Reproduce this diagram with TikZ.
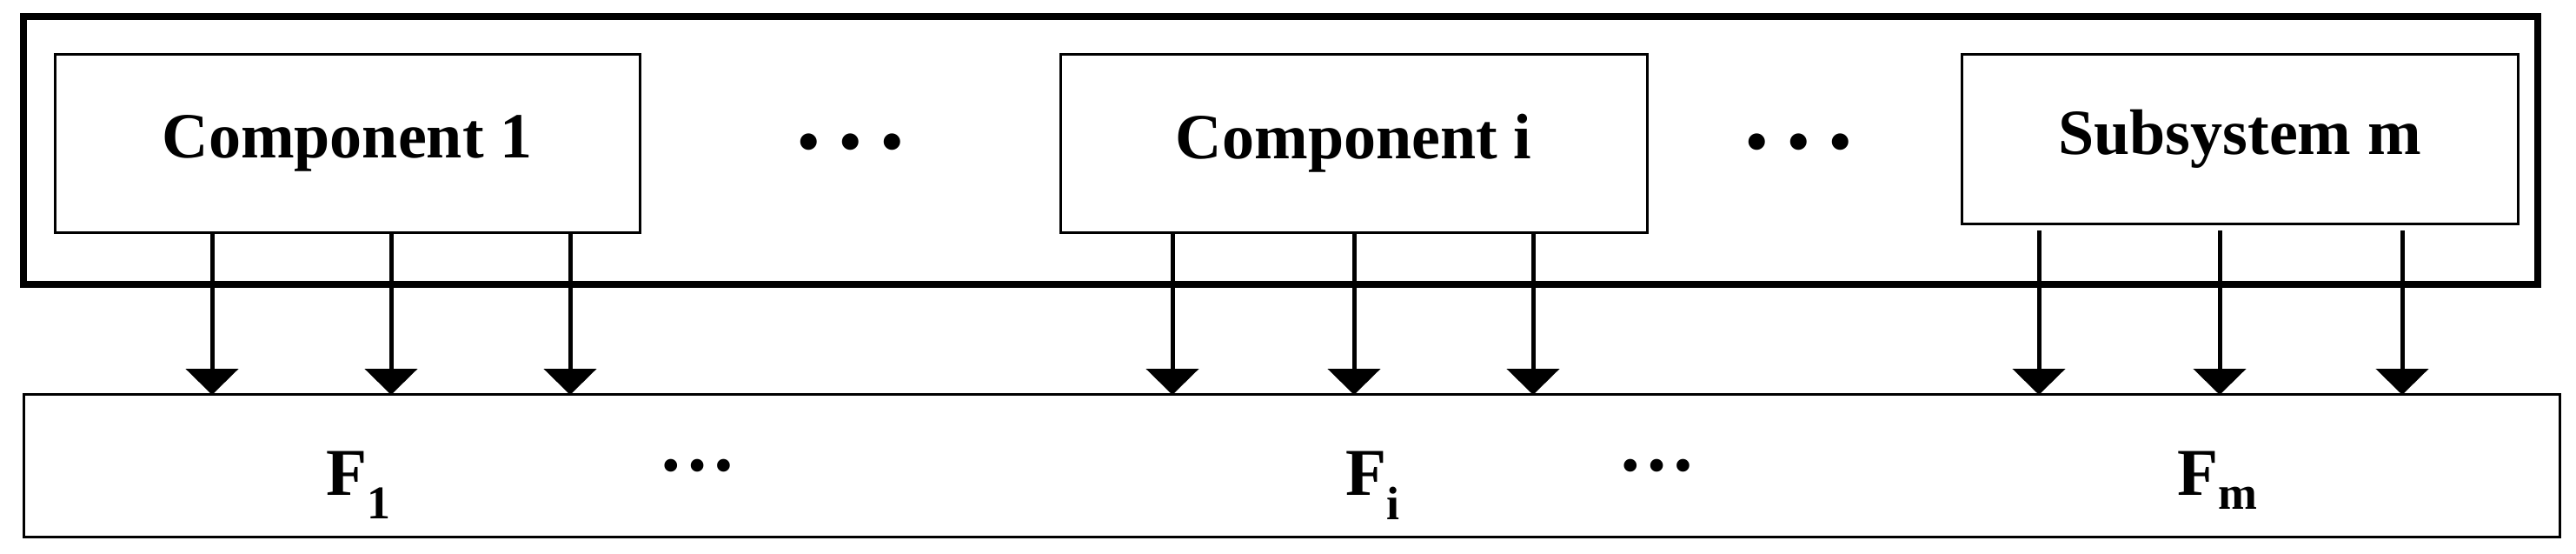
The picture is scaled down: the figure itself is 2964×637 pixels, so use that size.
\documentclass[tikz,border=0pt]{standalone}
\usepackage{fontspec}
\setmainfont{Liberation Serif}
\usetikzlibrary{arrows.meta}
\begin{document}
\begin{tikzpicture}[x=1pt,y=-1pt,
  box/.style={draw,line width=3pt,inner sep=0pt},
  lbl/.style={font=\fontsize{74}{80}\selectfont\bfseries,inner sep=0pt},
  flbl/.style={font=\fontsize{77}{80}\selectfont\bfseries,inner sep=0pt,anchor=base},
  dots/.style={font=\fontsize{70}{80}\selectfont\bfseries,inner sep=0pt},
  edots/.style={font=\fontsize{90}{90}\selectfont\bfseries,inner sep=0pt},
  arr/.style={line width=5pt,-{Triangle[width=60pt,length=30pt]}}]
\useasboundingbox (0,0) rectangle (2964,637);
\draw[line width=8pt] (27,19) rectangle (2920,327);
\node[box,minimum width=673pt,minimum height=205pt] (c1) at (399.5,164.5) {};
\node[lbl] (t1) at (c1) {Component 1};
\node[box,minimum width=675pt,minimum height=205pt] (ci) at (1557.5,164.5) {};
\node[lbl] (ti) at (ci) {Component i};
\node[box,minimum width=640pt,minimum height=195pt] (cm) at (2577,159.5) {};
\node[lbl] (tm) at (cm) {Subsystem m};
\node[dots] (d1) at (979,170) {•\,\,•\,\,•};
\node[dots] (d2) at (2070,170) {•\,\,•\,\,•};
\node[box,minimum width=2918pt,minimum height=164pt] (F) at (1486,535) {};
\node[flbl] (f1) at (413,569) {F\textsubscript{1}};
\node[flbl] (fi) at (1580,569) {F\textsubscript{i}};
\node[flbl] (fm) at (2552,569) {F\textsubscript{m}};
\node[edots] (e1) at (802,535) {…};
\node[edots] (e2) at (1906,535) {…};
\foreach \n/\x in {a/244,b/450,c/656} {
  \coordinate (s\n) at (\x,267); \coordinate (e\n) at (\x,454);
  \draw[arr] (s\n) -- (e\n);}
\foreach \n/\x in {d/1349,e/1558,f/1764} {
  \coordinate (s\n) at (\x,267); \coordinate (e\n) at (\x,454);
  \draw[arr] (s\n) -- (e\n);}
\foreach \n/\x in {g/2346,h/2554,i/2764} {
  \coordinate (s\n) at (\x,265); \coordinate (e\n) at (\x,454);
  \draw[arr] (s\n) -- (e\n);}
\end{tikzpicture}
\end{document}
